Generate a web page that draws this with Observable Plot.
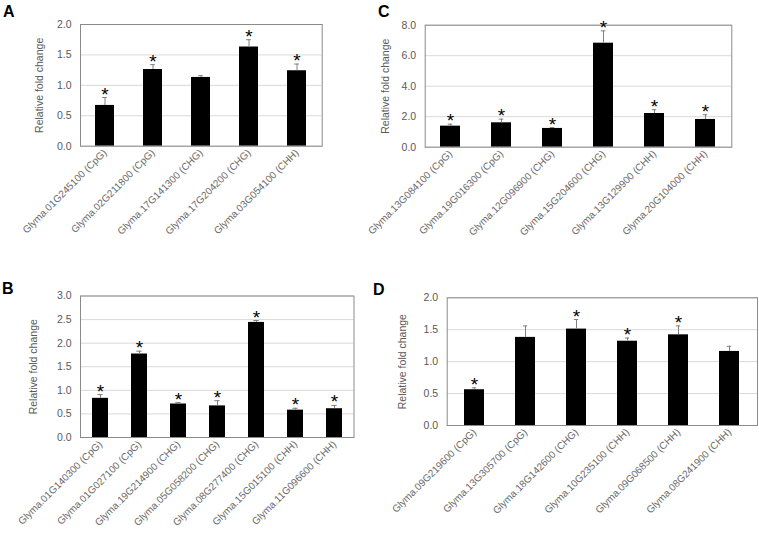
<!DOCTYPE html>
<html>
<head>
<meta charset="utf-8">
<script src="https://cdn.jsdelivr.net/npm/d3@7"></script>
<script src="https://cdn.jsdelivr.net/npm/@observablehq/plot@0.6"></script>
<style>
  html, body { margin: 0; padding: 0; background: #fff; }
  #wrap { position: relative; width: 759px; height: 534px; overflow: hidden; font-family: "Liberation Sans", Arial, sans-serif; }
  .panel { position: absolute; }
  .letter { position: absolute; font-weight: bold; font-size: 16px; color: #000; font-family: "Liberation Sans", Arial, sans-serif; }
</style>
</head>
<body>
<div id="wrap"></div>
<script>
// ---- Data ----
const yLabel = "Relative fold change";

const labelsA = ["Glyma.01G245100 (CpG)", "Glyma.02G211800 (CpG)", "Glyma.17G141300 (CHG)", "Glyma.17G204200 (CHG)", "Glyma.03G054100 (CHH)"];
const valuesA = [0.67, 1.26, 1.13, 1.63, 1.24];
const errorsA = [0.13, 0.08, 0.03, 0.12, 0.11];
const starsA = [1, 1, 0, 1, 1];
const ticksA = [0, 0.5, 1.0, 1.5, 2.0];

const labelsB = ["Glyma.01G140300 (CpG)", "Glyma.01G027100 (CpG)", "Glyma.19G214900 (CHG)", "Glyma.05G058200 (CHG)", "Glyma.08G277400 (CHG)", "Glyma.15G015100 (CHH)", "Glyma.11G096600 (CHH)"];
const valuesB = [0.83, 1.77, 0.71, 0.67, 2.44, 0.58, 0.61];
const errorsB = [0.08, 0.06, 0.03, 0.11, 0.04, 0.04, 0.07];
const starsB = [1, 1, 1, 1, 1, 1, 1];
const ticksB = [0, 0.5, 1.0, 1.5, 2.0, 2.5, 3.0];

const labelsC = ["Glyma.13G084100 (CpG)", "Glyma.19G016300 (CpG)", "Glyma.12G096900 (CHG)", "Glyma.15G204600 (CHG)", "Glyma.13G129900 (CHH)", "Glyma.20G104000 (CHH)"];
const valuesC = [1.38, 1.60, 1.23, 6.82, 2.21, 1.82];
const errorsC = [0.13, 0.24, 0.06, 0.81, 0.25, 0.31];
const starsC = [1, 1, 1, 1, 1, 1];
const ticksC = [0, 2.0, 4.0, 6.0, 8.0];

const labelsD = ["Glyma.09G219600 (CpG)", "Glyma.13G305700 (CpG)", "Glyma.18G142600 (CHG)", "Glyma.10G235100 (CHH)", "Glyma.09G068500 (CHH)", "Glyma.08G241900 (CHH)"];
const valuesD = [0.56, 1.38, 1.51, 1.32, 1.42, 1.16];
const errorsD = [0.03, 0.18, 0.15, 0.05, 0.14, 0.08];
const starsD = [1, 0, 1, 1, 1, 0];
const ticksD = [0, 0.5, 1.0, 1.5, 2.0];

// ---- Layout (positions of each panel) ----
const layout = {
  A: {left: 0,   top: 0,   mL: 80,   mR: 58.3, mT: 24,   mB: 121.3, yLab: -41},
  B: {left: 0,   top: 267, mL: 80,   mR: 26.5, mT: 28.5, mB: 97,    yLab: -47},
  C: {left: 379, top: 0,   mL: 45.7, mR: 27.7, mT: 24.7, mB: 120.3, yLab: -40},
  D: {left: 379, top: 267, mL: 67.7, mR: 2,    mT: 30.3, mB: 109,   yLab: -45}
};
const letterPos = {A: [3, 3], B: [2, 280], C: [378, 3], D: [373, 281]};

const FONT = "Liberation Sans, Arial, sans-serif";
const W = 380, H = 267;

function panel(key, labels, values, errors, stars, ticks) {
  const g = layout[key];
  const data = labels.map((label, i) => ({label, value: values[i], err: errors[i], hi: values[i] + errors[i], star: stars[i]}));
  const pad = 0.6;
  const bw = (W - g.mL - g.mR) / labels.length * (1 - pad);
  const capInset = Math.max(0, (bw - 5) / 2);
  const chart = Plot.plot({
    width: W, height: H,
    marginLeft: g.mL, marginRight: g.mR, marginTop: g.mT, marginBottom: g.mB,
    style: {fontFamily: FONT, background: "transparent", overflow: "visible"},
    x: {domain: labels, paddingInner: pad, paddingOuter: pad / 2},
    y: {domain: [ticks[0], ticks[ticks.length - 1]]},
    marks: [
      Plot.gridY(ticks, {stroke: "#d9d9d9", strokeOpacity: 1}),
      Plot.barY(data, {x: "label", y: "value", fill: "#000"}),
      Plot.ruleX(data, {x: "label", y1: "value", y2: "hi", stroke: "#808080", strokeWidth: 1}),
      Plot.tickY(data, {x: "label", y: "hi", stroke: "#808080", strokeWidth: 1, insetLeft: capInset, insetRight: capInset}),
      Plot.frame({stroke: "#8a8a8a", strokeWidth: 1}),
      Plot.axisY(ticks, {tickSize: 0, tickPadding: 9, tickFormat: d3.format(".1f"), fontSize: 10.5, fill: "#595959", label: null}),
      Plot.axisX({tickSize: 0, tickPadding: 5, tickRotate: -45, fontSize: 10, fill: "#6a6a6a", label: null}),
      Plot.text([yLabel], {frameAnchor: "left", dx: g.yLab, rotate: -90, fontSize: 10.5, fill: "#595959", textAnchor: "middle"}),
      Plot.text(data.filter(d => d.star), {x: "label", y: "hi", text: () => "*", fontSize: 19, fill: "#000", lineAnchor: "bottom", dy: 3})
    ]
  });
  chart.classList.add("panel");
  chart.style.left = g.left + "px";
  chart.style.top = g.top + "px";
  return chart;
}

const wrap = document.getElementById("wrap");
wrap.appendChild(panel("A", labelsA, valuesA, errorsA, starsA, ticksA));
wrap.appendChild(panel("B", labelsB, valuesB, errorsB, starsB, ticksB));
wrap.appendChild(panel("C", labelsC, valuesC, errorsC, starsC, ticksC));
wrap.appendChild(panel("D", labelsD, valuesD, errorsD, starsD, ticksD));
for (const [k, [x, y]] of Object.entries(letterPos)) {
  const d = document.createElement("div");
  d.className = "letter";
  d.textContent = k;
  d.style.left = x + "px";
  d.style.top = y + "px";
  wrap.appendChild(d);
}
</script>
</body>
</html>
